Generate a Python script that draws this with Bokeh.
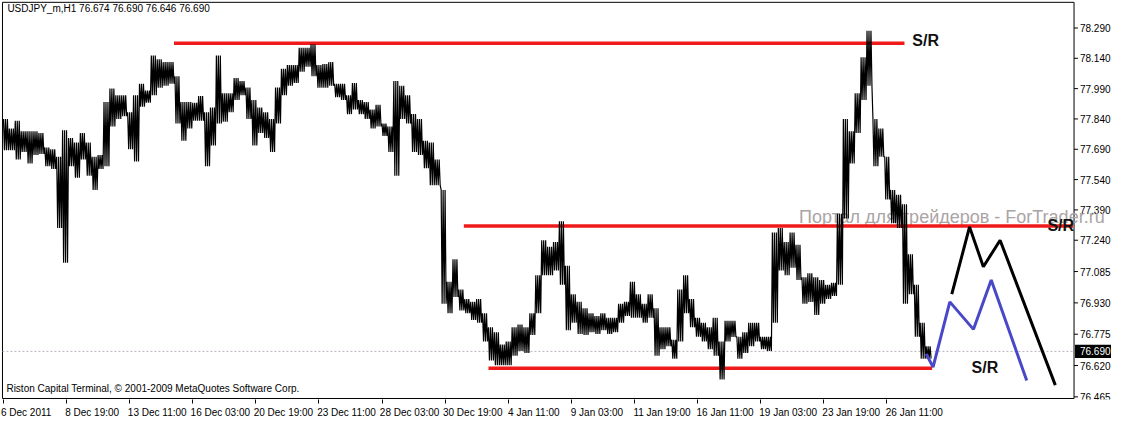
import numpy as np
from bokeh.plotting import figure
from bokeh.models import Range1d, FixedTicker
from bokeh.core.properties import value
from bokeh.embed import file_html
from bokeh.resources import INLINE

header_text = "USDJPY_m,H1  76.674 76.690 76.646 76.690"
footer_text = "Riston Capital Terminal, \u00a9 2001-2009 MetaQuotes Software Corp."
watermark_text = "Портал для трейдеров - ForTrader.ru"

# H1 price bars, summarised in groups of 6 hourly bars (high / low of each group)
bars_per_group = 6
group_high = [
    77.840, 77.793, 77.831, 77.779, 77.779, 77.779, 77.770, 77.699, 77.690, 77.653,
    77.784, 77.746, 77.723, 77.770, 77.723, 77.653, 77.662, 77.924, 77.990, 77.957,
    77.957, 77.873, 77.957, 78.014, 77.981, 78.154, 78.135, 78.121, 78.121, 78.051,
    77.924, 77.924, 77.920, 77.953, 77.873, 77.896, 78.154, 77.967, 77.967, 78.042,
    78.028, 77.995, 77.934, 77.896, 77.873, 77.840, 77.995, 78.088, 78.107, 78.107,
    78.192, 78.192, 78.210, 78.107, 78.112, 78.121, 78.014, 78.014, 77.957, 78.018,
    77.934, 77.924, 77.887, 77.910, 77.817, 77.803, 78.028, 78.004, 77.957, 77.864,
    77.840, 77.732, 77.723, 77.639, 77.489, 77.034, 77.146, 76.996, 76.949, 76.935,
    76.949, 76.879, 76.809, 76.785, 76.724, 76.739, 76.809, 76.823, 76.809, 76.879,
    77.067, 77.240, 77.207, 77.231, 77.334, 77.114, 76.973, 76.935, 76.903, 76.879,
    76.865, 76.879, 76.856, 76.856, 76.926, 76.935, 77.034, 76.973, 76.926, 76.973,
    76.903, 76.809, 76.809, 76.748, 76.996, 77.067, 76.949, 76.856, 76.832, 76.809,
    76.856, 76.739, 76.842, 76.842, 76.762, 76.785, 76.832, 76.832, 76.762, 76.762,
    77.278, 77.301, 77.231, 77.278, 77.217, 77.057, 77.076, 77.057, 77.043, 77.020,
    77.029, 77.371, 77.840, 77.779, 77.967, 78.145, 78.276, 77.840, 77.793, 77.653,
    77.489, 77.465, 77.418, 77.170, 77.020, 76.832, 76.715,
]
group_low = [
    77.685, 77.685, 77.639, 77.676, 77.620, 77.662, 77.667, 77.606, 77.592, 77.301,
    77.128, 77.606, 77.549, 77.639, 77.559, 77.489, 77.592, 77.606, 77.803, 77.840,
    77.854, 77.690, 77.629, 77.901, 77.920, 77.957, 77.995, 78.004, 78.014, 77.817,
    77.732, 77.793, 77.831, 77.831, 77.606, 77.709, 77.817, 77.826, 77.873, 77.934,
    77.957, 77.840, 77.709, 77.770, 77.746, 77.676, 77.817, 77.957, 78.004, 78.018,
    78.074, 78.098, 78.051, 77.995, 77.995, 78.004, 77.948, 77.934, 77.864, 77.887,
    77.864, 77.840, 77.793, 77.803, 77.756, 77.676, 77.559, 77.840, 77.817, 77.676,
    77.662, 77.596, 77.512, 77.512, 76.926, 76.879, 76.959, 76.893, 76.879, 76.846,
    76.832, 76.739, 76.645, 76.621, 76.621, 76.621, 76.668, 76.692, 76.682, 76.771,
    76.879, 77.067, 77.067, 77.090, 77.020, 76.795, 76.832, 76.776, 76.771, 76.785,
    76.776, 76.795, 76.776, 76.785, 76.832, 76.865, 76.856, 76.856, 76.832, 76.856,
    76.668, 76.701, 76.715, 76.654, 76.739, 76.879, 76.809, 76.762, 76.739, 76.701,
    76.668, 76.551, 76.739, 76.762, 76.654, 76.682, 76.715, 76.739, 76.701, 76.692,
    76.832, 77.090, 77.067, 77.104, 77.043, 76.926, 76.935, 76.870, 76.926, 76.949,
    76.964, 77.020, 77.348, 77.620, 77.770, 77.934, 78.004, 77.606, 77.653, 77.442,
    77.324, 77.301, 76.926, 76.973, 76.762, 76.654, 76.654,
]

time_tick_bars = [0, 64, 128, 192, 256, 320, 384, 448, 512, 576, 640, 704, 768, 832, 896]
time_tick_labels = ["6 Dec 2011", "8 Dec 19:00", "13 Dec 11:00", "16 Dec 03:00",
                    "20 Dec 19:00", "23 Dec 11:00", "28 Dec 03:00", "30 Dec 19:00",
                    "4 Jan 11:00", "9 Jan 03:00", "11 Jan 19:00", "16 Jan 11:00",
                    "19 Jan 03:00", "23 Jan 19:00", "26 Jan 11:00"]
price_ticks = [78.290, 78.140, 77.990, 77.840, 77.690, 77.540, 77.390,
               77.240, 77.085, 76.930, 76.775, 76.620, 76.465]
last_price = 76.690

sr_levels = [78.215, 77.310, 76.606]
sr_start_bar = [173, 467, 492]
sr_end_bar = [914, 1085, 942]

proj_black_bar = [962, 980, 994, 1011, 1067]
proj_black_price = [76.973, 77.306, 77.109, 77.240, 76.523]
proj_blue_bar = [936, 943, 960, 984, 1002, 1038]
proj_blue_price = [76.678, 76.612, 76.935, 76.799, 77.043, 76.546]

FONT = "Liberation Sans"

# chart area (in bar / price units) and price-scale strip on its right
X_LEFT, X_RIGHT = -1, 1086
Y_TOP, Y_BOTTOM = 78.417, 76.457

p = figure(width=1111, height=420, x_range=Range1d(-3, 1124),
           y_range=Range1d(76.452, 78.426), output_backend="svg",
           toolbar_location=None, y_axis_location=None,
           min_border_left=0, min_border_top=0, min_border_right=0,
           min_border_bottom=0)
p.grid.visible = False
p.outline_line_color = None
p.background_fill_color = "white"
p.border_fill_color = "white"

# x axis: labels start at the tick (MetaTrader style)
label_centers = [b - 1 + int(round(len(t) * 2.45)) for b, t in zip(time_tick_bars, time_tick_labels)]
p.xaxis.ticker = FixedTicker(ticks=label_centers, minor_ticks=time_tick_bars)
p.xaxis.major_label_overrides = {c: t for c, t in zip(label_centers, time_tick_labels)}
p.xaxis.major_tick_line_color = None
p.xaxis.major_tick_out = 0
p.xaxis.major_tick_in = 0
p.xaxis.minor_tick_line_color = "black"
p.xaxis.minor_tick_out = 4
p.xaxis.minor_tick_in = 0
p.xaxis.major_label_text_font = FONT
p.xaxis.major_label_text_font_size = "10px"
p.xaxis.major_label_text_color = "black"
p.xaxis.major_label_standoff = 3
p.xaxis.axis_line_color = None

# chart box border (the right edge is the price-scale line)
p.quad(left=[X_LEFT], right=[X_RIGHT], top=[Y_TOP], bottom=[Y_BOTTOM],
       fill_color=None, line_color="black", line_width=1)

# price scale: ticks and labels
p.segment(x0=[X_RIGHT] * len(price_ticks), y0=price_ticks,
          x1=[X_RIGHT + 4] * len(price_ticks), y1=price_ticks,
          line_color="black", line_width=1)
p.text(x=[X_RIGHT + 6] * len(price_ticks), y=price_ticks,
       text=[f"{v:.3f}" for v in price_ticks], text_font=value(FONT),
       text_font_size="10px", text_color="black", text_baseline="middle")

# watermark (under the bars)
p.text(x=[807], y=[77.357], text=[watermark_text], text_font=value(FONT),
       text_font_size="18px", text_color="#aba4a4", text_baseline="middle")

# last price dotted line
p.line(x=[X_LEFT, X_RIGHT], y=[last_price, last_price], line_color="#bfb0c0",
       line_width=1, line_dash="2 2")

# S/R lines
p.segment(x0=sr_start_bar, y0=sr_levels, x1=sr_end_bar, y1=sr_levels,
          line_color="#f01a1a", line_width=3.5)

# price bars as dense strokes between group highs and lows
gh = np.array(group_high)
gl = np.array(group_low)
base = np.arange(len(gh)) * bars_per_group
offs = np.arange(bars_per_group)
xs = (base[:, None] + offs[None, :]).ravel()
ys = np.where(offs[None, :] % 2 == 0, gh[:, None], gl[:, None]).ravel()
p.line(x=xs, y=ys, line_color="black", line_width=1.2)

# projections
p.line(x=proj_blue_bar, y=proj_blue_price, line_color="#4848c8", line_width=3)
p.line(x=proj_black_bar, y=proj_black_price, line_color="black", line_width=3)

# S/R labels
p.text(x=[922, 1059, 982], y=[78.229, 77.315, 76.612], text=["S/R", "S/R", "S/R"],
       text_font=value(FONT), text_font_size="16px", text_font_style="bold",
       text_color="#111111", text_baseline="middle")

# header / footer texts
p.text(x=[4], y=[78.384], text=[header_text], text_font=value(FONT),
       text_font_size="10px", text_color="black", text_baseline="middle")
p.text(x=[3], y=[76.504], text=[footer_text], text_font=value(FONT),
       text_font_size="10px", text_color="black", text_baseline="middle")

# last price tag on the price scale
p.quad(left=[X_RIGHT + 1], right=[1124], top=[last_price + 0.033],
       bottom=[last_price - 0.033], fill_color="black", line_color=None)
p.text(x=[X_RIGHT + 6], y=[last_price], text=[f"{last_price:.3f}"],
       text_font=value(FONT), text_font_size="10px", text_color="white",
       text_baseline="middle")

open("out.html", "w").write(file_html(p, INLINE))
